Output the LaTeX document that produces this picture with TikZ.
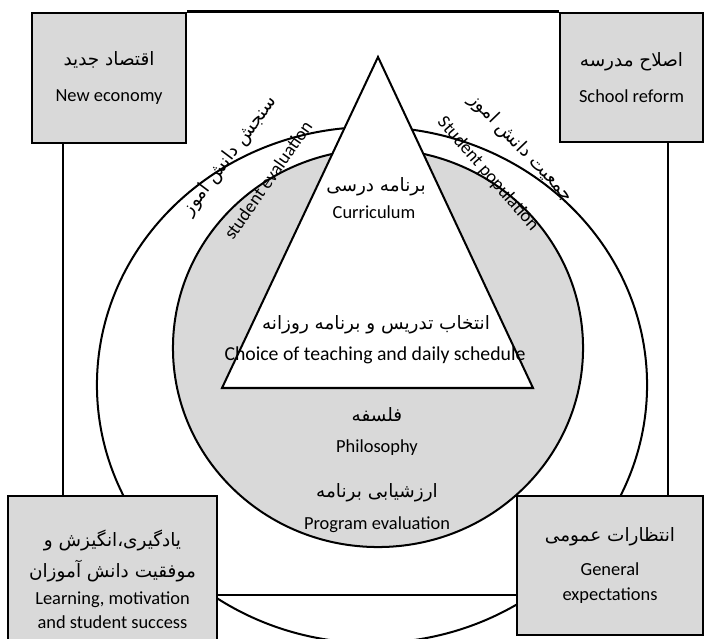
\documentclass[tikz,border=0pt]{standalone}
\usepackage{fontspec}
\setmainfont{Carlito}
\newfontfamily\fafont[Script=Arabic]{DejaVu Sans}
\TeXXeTstate=1
\usepackage{tikz}
\usetikzlibrary{positioning}
\definecolor{shade}{HTML}{D9D9D9}
\newcommand{\fa}[1]{{\fafont\beginR #1\endR}}

\begin{document}
\begin{tikzpicture}[x=0.021cm, y=-0.021cm,
    every node/.style={font=\fontsize{11}{14}\selectfont},
    box/.style={draw, line width=1.6pt, fill=shade, align=center, inner sep=0pt},
    frame/.style={line width=1.4pt},
    ring/.style={line width=1.2pt}]
   \clip (0,0) rectangle (705,639);

   % coords
   \coordinate (OC) at (372, 385);
   \coordinate (IC) at (378, 348);
   \coordinate (apex) at (378, 57);
   \coordinate (BL) at (222, 388);
   \coordinate (BR) at (533, 388);
   \coordinate (frameL) at (63, 0);
   \coordinate (frameR) at (668, 0);
   \coordinate (frameB) at (0, 595);

   % rings and triangle
   \draw[ring] (OC) ellipse [x radius=5.775cm, y radius=5.418cm];
   \draw[ring, fill=shade] (IC) ellipse [x radius=4.305cm, y radius=4.179cm];
   \draw[ring, fill=white] (apex) -- (BL) -- (BR) -- cycle;

   \node (curFa) at (376, 187) {\fa{برنامه درسی}};
   \node (curEn) at (374, 212) {Curriculum};
   \node (choiceFa) at (376, 325) {\fa{انتخاب تدریس و  برنامه روزانه}};
   \node[font=\fontsize{11.8}{14}\selectfont] (choiceEn) at (375, 355) {Choice of teaching and daily schedule};
   \node (philFa) at (377, 415) {\fa{فلسفه}};
   \node (philEn) at (377, 448) {Philosophy};
   \node (evalFa) at (377, 493) {\fa{ارزشیابی برنامه}};
   \node (evalEn) at (377, 525) {Program evaluation};

   % rotated labels
   \node[rotate=53, inner sep=1pt] (assessFa) at (230, 156) {\fa{سنجش دانش اموز}};
   \node[rotate=55, inner sep=1pt] (assessEn) at (268, 180) {student evaluation};
   \node[rotate=-46, inner sep=1pt] (popFa) at (521, 148) {\fa{جمعیت دانش اموز}};
   \node[rotate=-49, inner sep=1pt] (popEn) at (488, 174) {Student population};

   % boxes
   \node[box, minimum width=3.234cm, minimum height=2.73cm] (neweco) at (109, 78)
      {\fa{اقتصاد جدید}\\[8pt] New economy};
   \node[box, minimum width=3.003cm, minimum height=2.709cm] (reform) at (631.5, 77.5)
      {\fa{اصلاح مدرسه}\\[7pt] School reform};
   \node[box, minimum width=4.389cm, minimum height=3.486cm] (learning) at (112.5, 579)
      {\fa{یادگیری،انگیزش و}\\[5pt] \fa{موفقیت دانش آموزان}\\[2pt] Learning, motivation\\ and student success};
   \node[box, minimum width=3.906cm, minimum height=2.919cm] (expect) at (610, 565.5)
      {\fa{انتظارات عمومی}\\[6pt] General\\[1pt] expectations};

   % frame
   \draw[frame] (neweco.north east) -- (reform.north west);
   \draw[frame] (neweco.south -| frameL) -- (learning.north -| frameL);
   \draw[frame] (reform.south -| frameR) -- (expect.north -| frameR);
   \draw[frame] (learning.east |- frameB) -- (expect.west |- frameB);
\end{tikzpicture}
\end{document}
